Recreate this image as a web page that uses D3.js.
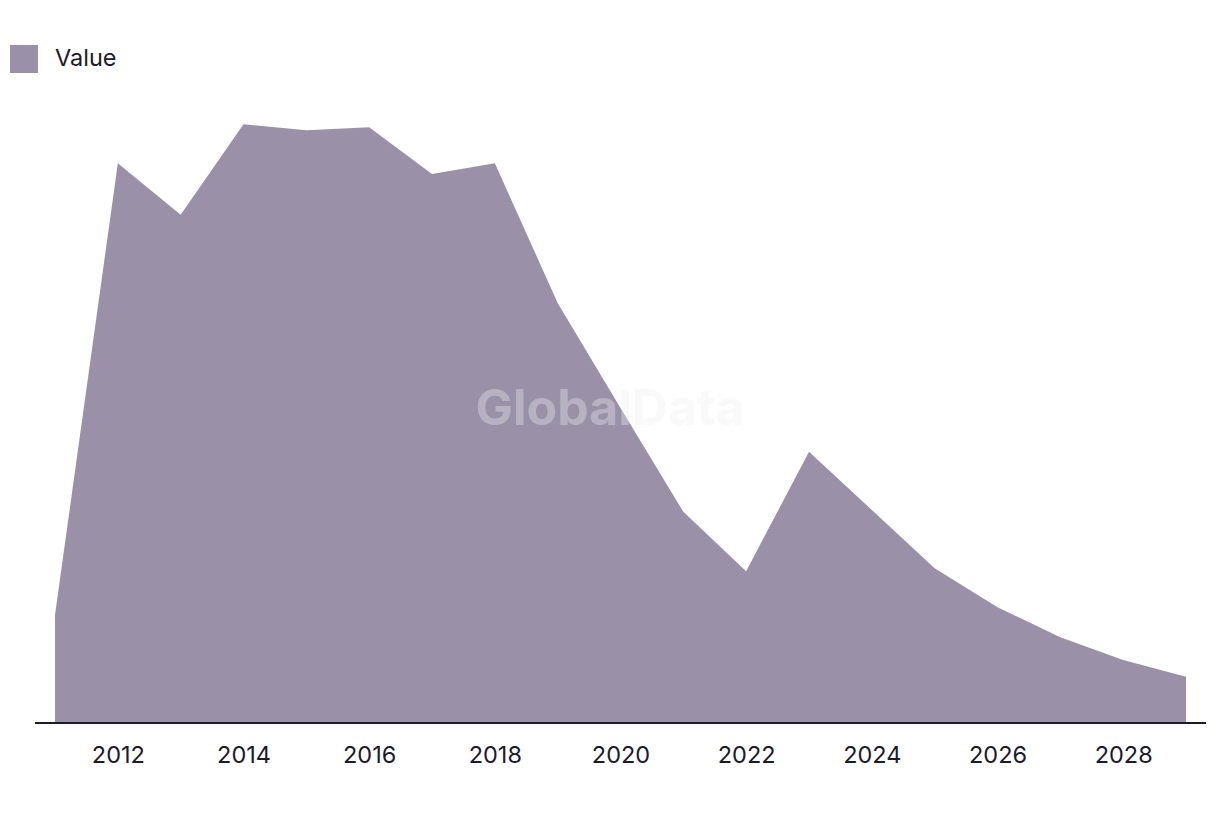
<!DOCTYPE html>
<html>
<head>
<meta charset="utf-8">
<script src="https://cdn.jsdelivr.net/npm/d3@7"></script>
<style>
  body { margin: 0; background: #fff; }
  text { font-family: Inter, "Liberation Sans", sans-serif; }
</style>
</head>
<body>
<div id="chart"></div>
<script>
// chart data
var years = [2011, 2012, 2013, 2014, 2015, 2016, 2017, 2018, 2019, 2020,
             2021, 2022, 2023, 2024, 2025, 2026, 2027, 2028, 2029];
var values = [18, 93.3, 84.7, 99.8, 98.8, 99.3, 91.5, 93.3, 70, 52.5,
              35.2, 25.3, 45.2, 35.5, 25.8, 19.3, 14.3, 10.5, 7.7];
var tickYears = [2012, 2014, 2016, 2018, 2020, 2022, 2024, 2026, 2028];
var seriesName = "Value";

var width = 1220, height = 814;
var margin = {top: 123, right: 34, bottom: 91, left: 55};
var fillColor = "#9a91a9", inkColor = "#1b1a2e";

var data = years.map(function(y, i) { return {year: y, value: values[i]}; });

var svg = d3.select("#chart").append("svg")
    .attr("width", width)
    .attr("height", height);

var x = d3.scaleLinear()
    .domain([2011, 2029])
    .range([margin.left, width - margin.right]);

var y = d3.scaleLinear()
    .domain([0, 100])
    .range([height - margin.bottom, margin.top]);

var area = d3.area()
    .x(function(d) { return x(d.year); })
    .y0(y(0))
    .y1(function(d) { return y(d.value); });

svg.append("path")
    .datum(data)
    .attr("fill", fillColor)
    .attr("d", area);

// watermark
svg.append("text")
    .attr("x", 610)
    .attr("y", 425)
    .attr("text-anchor", "middle")
    .attr("font-size", "50px")
    .attr("font-weight", "bold")
    .attr("fill", "#eeeeee")
    .attr("fill-opacity", 0.35)
    .text("GlobalData");

// x axis
var xAxis = d3.axisBottom(x)
    .tickValues(tickYears)
    .tickFormat(d3.format("d"))
    .tickSize(0)
    .tickPadding(23);

var gx = svg.append("g")
    .attr("transform", "translate(0," + y(0) + ")")
    .call(xAxis);

gx.select(".domain").remove();
gx.append("line")
    .attr("x1", 35)
    .attr("x2", 1206)
    .attr("stroke", inkColor)
    .attr("stroke-width", 2);

gx.selectAll(".tick text")
    .attr("fill", inkColor)
    .attr("font-size", "23.5px")
    .attr("font-family", "Inter, 'Liberation Sans', sans-serif");

// legend
var legend = svg.append("g");
legend.append("rect")
    .attr("x", 10)
    .attr("y", 45)
    .attr("width", 28)
    .attr("height", 28)
    .attr("fill", fillColor);
legend.append("text")
    .attr("x", 55)
    .attr("y", 66)
    .attr("font-size", "23.5px")
    .attr("fill", inkColor)
    .text(seriesName);
</script>
</body>
</html>
